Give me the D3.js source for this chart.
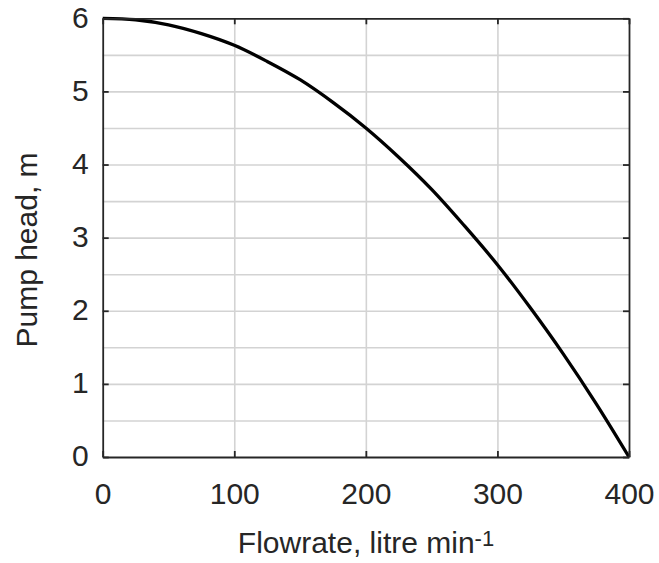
<!DOCTYPE html>
<html>
<head>
<meta charset="utf-8">
<script src="https://cdn.jsdelivr.net/npm/d3@7"></script>
<style>
  body { margin: 0; background: #fff; }
  text { font-family: "Liberation Sans", Arial, sans-serif; fill: #262626; }
</style>
</head>
<body>
<div id="painting"></div>
<script>
// pump curve
var flowrate = [0, 25, 50, 75, 100, 125, 150, 175, 200, 225, 250, 275, 300, 325, 350, 375, 400];
var head = [6.0, 5.98, 5.91, 5.79, 5.63, 5.41, 5.16, 4.85, 4.5, 4.1, 3.66, 3.16, 2.63, 2.04, 1.41, 0.73, 0.0];

var xTicks = [0, 100, 200, 300, 400];
var yTicks = [0, 1, 2, 3, 4, 5, 6];
var yGrid = [0.5, 1, 1.5, 2, 2.5, 3, 3.5, 4, 4.5, 5, 5.5];

var xLabel = "Flowrate, litre min";
var xLabelSup = "-1";
var yLabel = "Pump head, m";

var W = 659, H = 563;
var margin = {top: 18.3, right: 30, bottom: 106, left: 102.7};
var w = 629 - margin.left;
var h = 457 - margin.top;

var xScale = d3.scaleLinear().domain([0, 400]).range([0, w]);
var yScale = d3.scaleLinear().domain([0, 6]).range([h, 0]);

var svg = d3.select("#painting")
  .append("svg")
  .attr("width", W)
  .attr("height", H);

var g = svg.append("g")
  .attr("transform", "translate(" + margin.left + "," + margin.top + ")");

// grid
g.append("g")
  .attr("class", "grid")
  .attr("transform", "translate(0," + h + ")")
  .call(d3.axisBottom(xScale).tickValues([100, 200, 300]).tickSize(-h).tickFormat(""))
  .call(function(s){ s.select(".domain").remove(); });
g.append("g")
  .attr("class", "grid")
  .call(d3.axisLeft(yScale).tickValues(yGrid).tickSize(-w).tickFormat(""))
  .call(function(s){ s.select(".domain").remove(); });
g.selectAll(".grid line")
  .attr("stroke", "#d3d3d3")
  .attr("stroke-width", 1.6);

// curve
var line = d3.line()
  .x(function(d, i){ return xScale(flowrate[i]); })
  .y(function(d){ return yScale(d); })
  .curve(d3.curveCatmullRom);

g.append("path")
  .datum(head)
  .attr("d", line)
  .attr("fill", "none")
  .attr("stroke", "#000")
  .attr("stroke-width", 3.3)
  .attr("stroke-linejoin", "round");

// axes (ticks inward, box all round)
var tickLen = 6;
var xAxis = g.append("g")
  .attr("transform", "translate(0," + h + ")")
  .call(d3.axisBottom(xScale).tickValues(xTicks).tickSizeInner(-tickLen).tickSizeOuter(0).tickFormat(d3.format("d")));
var yAxis = g.append("g")
  .call(d3.axisLeft(yScale).tickValues(yTicks).tickSizeInner(-tickLen).tickSizeOuter(0).tickPadding(14).tickFormat(d3.format("d")));
var xTop = g.append("g")
  .call(d3.axisTop(xScale).tickValues(xTicks).tickSizeInner(-tickLen).tickSizeOuter(0).tickFormat(""));
var yRight = g.append("g")
  .attr("transform", "translate(" + w + ",0)")
  .call(d3.axisRight(yScale).tickValues(yTicks).tickSizeInner(-tickLen).tickSizeOuter(0).tickFormat(""));

[xAxis, yAxis, xTop, yRight].forEach(function(a){
  a.select(".domain").attr("stroke", "#262626").attr("stroke-width", 1.8);
  a.selectAll(".tick line").attr("stroke", "#262626").attr("stroke-width", 1.8);
  a.selectAll(".tick text")
    .attr("fill", "#262626")
    .style("font-size", "30px")
    .style("font-family", "'Liberation Sans', Arial, sans-serif");
});
xAxis.selectAll(".tick text").attr("dy", 0).attr("y", 47);
yAxis.selectAll(".tick text").attr("dy", 0).attr("y", 8.7);

// axis labels
var xl = svg.append("text")
  .attr("x", 366)
  .attr("y", 553)
  .attr("text-anchor", "middle")
  .style("font-size", "30px");
xl.append("tspan").text(xLabel);
xl.append("tspan").attr("dy", -7).style("font-size", "22px").text(xLabelSup);

svg.append("text")
  .attr("transform", "translate(37,250) rotate(-90)")
  .attr("text-anchor", "middle")
  .style("font-size", "30px")
  .text(yLabel);
</script>
</body>
</html>
